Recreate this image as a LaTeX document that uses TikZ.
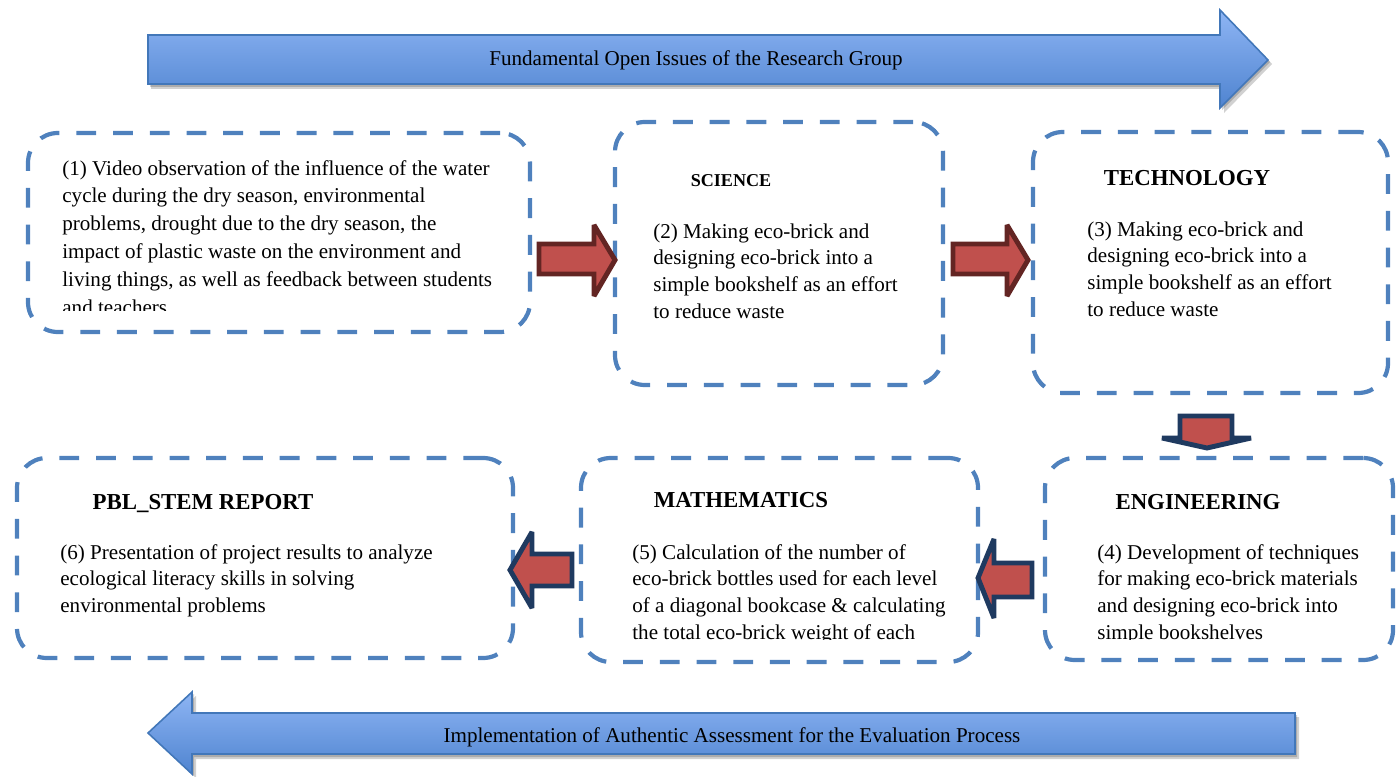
\documentclass[tikz,border=0pt]{standalone}
\usepackage{fontspec}
\setmainfont{Liberation Serif}
\definecolor{boxblue}{HTML}{4F81BD}
\definecolor{bandtop}{HTML}{8EB5F4}
\definecolor{bandbot}{HTML}{4F84D0}
\definecolor{bandline}{HTML}{4277B9}
\definecolor{brickred}{HTML}{C0504D}
\definecolor{maroon}{HTML}{632523}
\definecolor{navy}{HTML}{1F3A60}
\newcommand{\bodytxt}[2][15.2]{\parbox[t]{9cm}{\raggedright\fontsize{12}{#1}\selectfont #2}}
\begin{document}
\begin{tikzpicture}[x=0.02cm,y=-0.02cm,
  stembox/.style={draw=boxblue, line width=2.4pt, dash pattern=on 11.3pt off 9.6pt,
                  rounded corners=17pt, inner sep=0pt},
  heading/.style={font=\fontsize{13}{15}\selectfont\bfseries, anchor=base, inner sep=0pt},
  smallheading/.style={font=\fontsize{10.3}{12}\selectfont\bfseries, anchor=base, inner sep=0pt},
  body/.style={anchor=base west, inner sep=0pt},
  band/.style={top color=bandtop, bottom color=bandbot, draw=bandline, line width=0.9pt},
  bandshadow/.style={fill=black, opacity=0.18},
  redarrow/.style={fill=brickred, draw=maroon, line width=2.8pt, line join=miter, miter limit=3},
  navyarrow/.style={fill=brickred, draw=navy, line width=2.8pt, line join=miter, miter limit=3},
  bandlabel/.style={font=\fontsize{12}{14}\selectfont, inner sep=0pt}
]
\useasboundingbox (0,0) rectangle (1400,777);

% --- top band arrow
\fill[bandshadow] (151,39) -- (1224,39) -- (1224,14) -- (1272,64) -- (1224,113) -- (1224,89) -- (151,89) -- cycle;
\fill[bandshadow] (150,37) -- (1222,37) -- (1222,12) -- (1270,62) -- (1222,110) -- (1222,87) -- (150,87) -- cycle;
\path[band] (148,35) -- (1220,35) -- (1220,10) -- (1268,60) -- (1220,108) -- (1220,84) -- (148,84) -- cycle;
\node[bandlabel] (toplabel) at (696,60) {Fundamental Open Issues of the Research Group};

% --- bottom band arrow
\fill[bandshadow] (1299,717) -- (196,717) -- (196,696) -- (152,737) -- (196,778) -- (196,759) -- (1299,759) -- cycle;
\fill[bandshadow] (1297,715) -- (194,715) -- (194,694) -- (150,735) -- (194,776) -- (194,757) -- (1297,757) -- cycle;
\path[band] (1295,713) -- (192,713) -- (192,692) -- (148,733) -- (192,774) -- (192,754) -- (1295,754) -- cycle;
\node[bandlabel] (bottomlabel) at (732,737) {Implementation of Authentic Assessment for the Evaluation Process};

% --- dashed boxes
\node[stembox, minimum width={502*0.02cm}, minimum height={199*0.02cm}] (b1) at (279,232.5) {};
\node[stembox, minimum width={328*0.02cm}, minimum height={263*0.02cm}] (b2) at (779,253.5) {};
\node[stembox, minimum width={355*0.02cm}, minimum height={261*0.02cm}] (b3) at (1210.5,262.5) {};
\node[stembox, minimum width={348*0.02cm}, minimum height={202*0.02cm}] (b4) at (1219,559) {};
\node[stembox, minimum width={397*0.02cm}, minimum height={204*0.02cm}] (b5) at (779.5,560) {};
\node[stembox, minimum width={496*0.02cm}, minimum height={200*0.02cm}] (b6) at (265,558) {};

% --- headings
\node[smallheading] (h2) at (731,186) {SCIENCE};
\node[heading] (h3) at (1187,185) {TECHNOLOGY};
\node[heading] (h4) at (1198,509) {ENGINEERING};
\node[heading] (h5) at (741,507) {MATHEMATICS};
\node[heading] (h6) at (203,509) {PBL\_STEM REPORT};

% --- box texts (long ones are cut off by their boxes)
\begin{scope}
\clip (30,140) rectangle (520,310);
\node[body] (t1) at (62,175) {\bodytxt[15.9]{(1) Video observation of the influence of the water\\
cycle during the dry season, environmental\\
problems, drought due to the dry season, the\\
impact of plastic waste on the environment and\\
living things, as well as feedback between students\\
and teachers}};
\end{scope}
\node[body] (t2) at (653,238) {\bodytxt{(2) Making eco-brick and\\
designing eco-brick into a\\
simple bookshelf as an effort\\
to reduce waste}};
\node[body] (t3) at (1087,236) {\bodytxt{(3) Making eco-brick and\\
designing eco-brick into a\\
simple bookshelf as an effort\\
to reduce waste}};
\begin{scope}
\clip (1050,520) rectangle (1390,639);
\node[body] (t4) at (1097,559) {\bodytxt{(4) Development of techniques\\
for making eco-brick materials\\
and designing eco-brick into\\
simple bookshelves}};
\end{scope}
\begin{scope}
\clip (585,520) rectangle (975,639);
\node[body] (t5) at (632,559) {\bodytxt{(5) Calculation of the number of\\
eco-brick bottles used for each level\\
of a diagonal bookcase \& calculating\\
the total eco-brick weight of each}};
\end{scope}
\node[body] (t6) at (60,559) {\bodytxt{(6) Presentation of project results to analyze\\
ecological literacy skills in solving\\
environmental problems}};

% --- block arrows between the stages
\path[redarrow] (539,244) -- (594,244) -- (594,225) -- (615,260) -- (594,296) -- (594,274) -- (539,274) -- cycle;
\path[redarrow] (953,244) -- (1007,244) -- (1007,225) -- (1028,260) -- (1007,296) -- (1007,274) -- (953,274) -- cycle;
\path[navyarrow] (1180,416) -- (1232,416) -- (1232,438) -- (1251,438) -- (1207,448) -- (1162,438) -- (1180,438) -- cycle;
\path[navyarrow] (1032,563) -- (994,563) -- (994,539) -- (978,578) -- (994,618) -- (994,597) -- (1032,597) -- cycle;
\path[navyarrow] (572,554) -- (532,554) -- (532,532) -- (510,570) -- (532,608) -- (532,586) -- (572,586) -- cycle;
\end{tikzpicture}
\end{document}
